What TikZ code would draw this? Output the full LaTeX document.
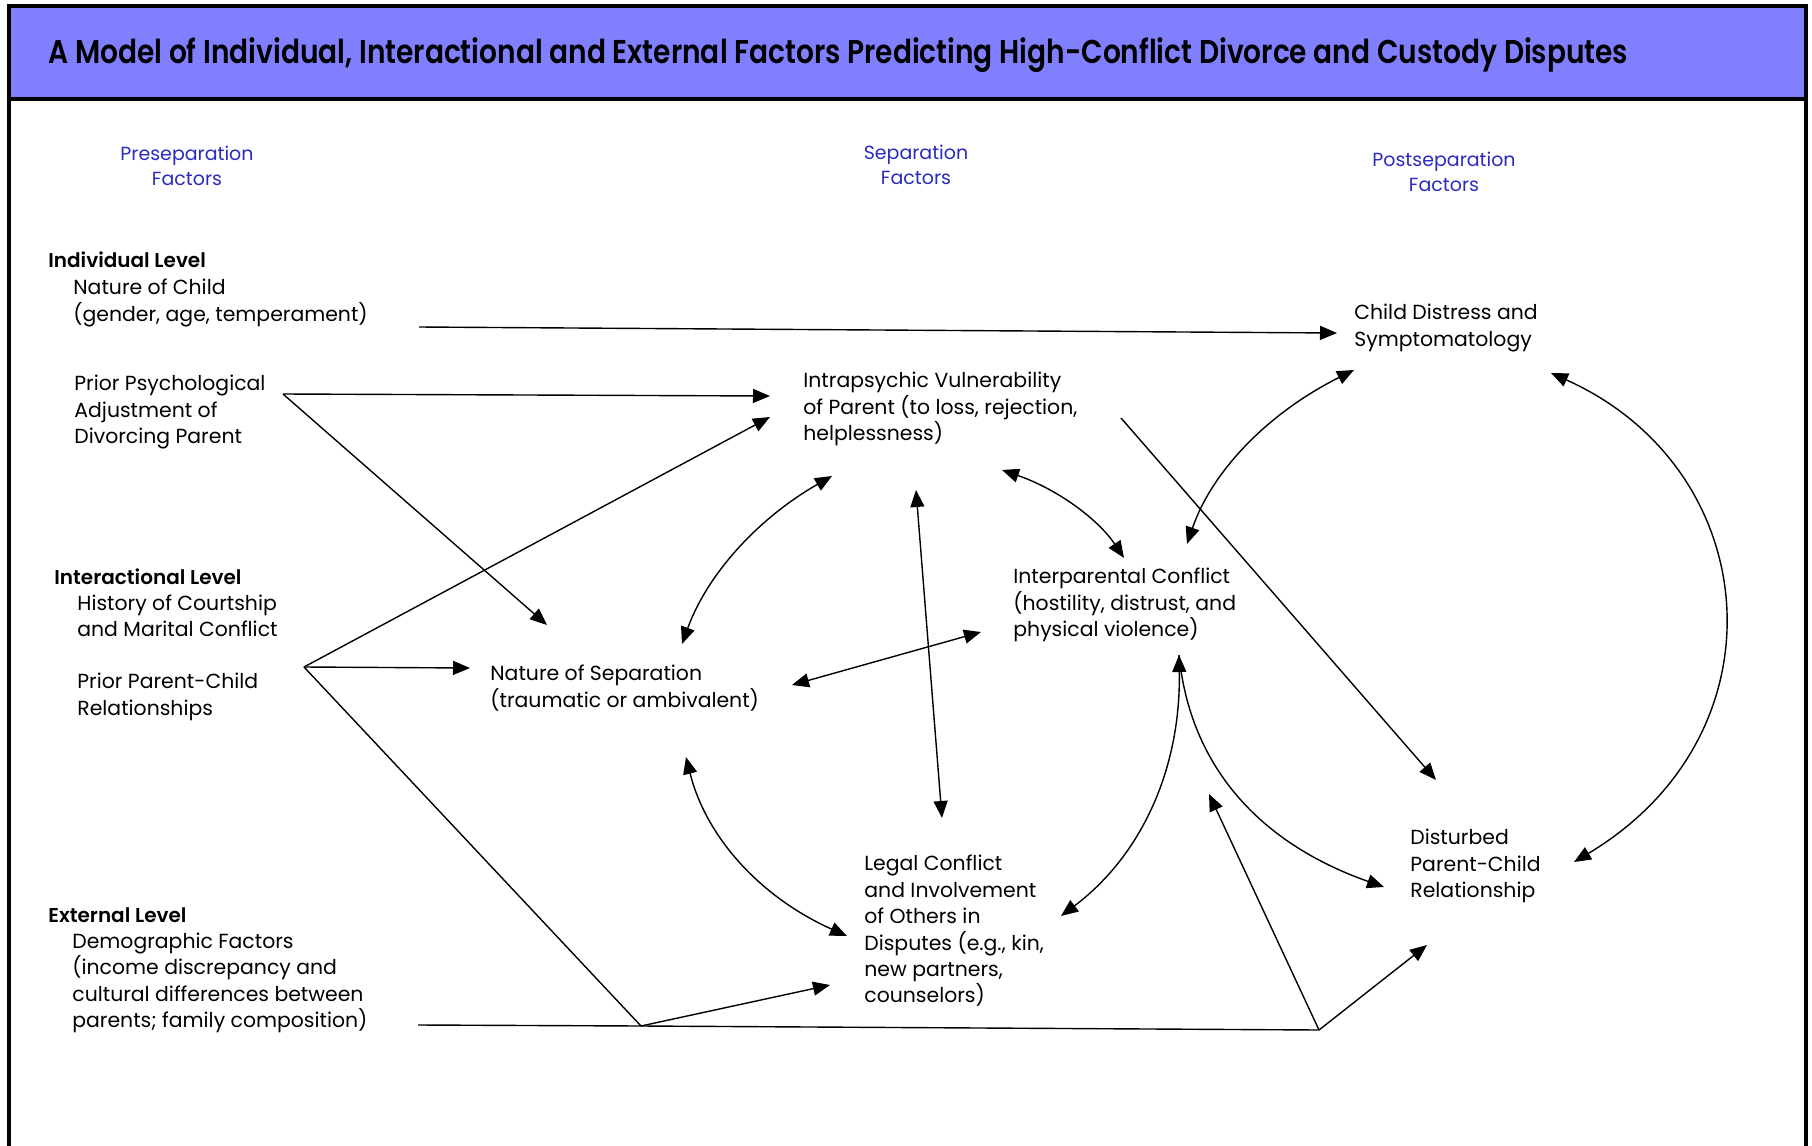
\documentclass[tikz,border=0pt]{standalone}
\usepackage{fontspec}
\setmainfont{Poppins}
\newfontfamily\titlefont[FakeStretch=0.85,UprightFont={* SemiBold}]{Poppins}
\newfontfamily\levelfont[UprightFont={* SemiBold}]{Poppins}
\usetikzlibrary{arrows.meta}
\definecolor{barblue}{HTML}{8080FF}
\definecolor{phaseblue}{HTML}{2A2AC0}
\tikzset{
  factor/.style={anchor=west,align=left,inner sep=0pt,font=\fontsize{10.2}{13.2}\selectfont},
  level/.style={anchor=west,inner sep=0pt,font=\levelfont\fontsize{10}{12}\selectfont},
  phase/.style={align=center,inner sep=0pt,text=phaseblue,font=\fontsize{9.5}{12.5}\selectfont},
  bare/.style={line width=0.7pt},
  link/.style={bare,-{Triangle[length=8.5pt,width=7pt]}},
  twoway/.style={bare,{Triangle[length=8.5pt,width=7pt]}-{Triangle[length=8.5pt,width=7pt]}}
}

\begin{document}
\begin{tikzpicture}[x=0.5pt,y=-0.5pt]
  \useasboundingbox (0,0) rectangle (1812,1146);
  % frame and title bar
  \fill[barblue] (9,6) rectangle (1806,99);
  \draw[line width=1.6pt] (9,1146) -- (9,6) -- (1806,6) -- (1806,1146);
  \draw[line width=1.6pt] (9,99) -- (1806,99);
  \node[anchor=base west,inner sep=0pt,font=\titlefont\fontsize{16.5}{19}\selectfont] (title) at (48,63)
    {A Model of Individual, Interactional and External Factors Predicting High-Conflict Divorce and Custody Disputes};

  % phase headings
  \node[phase] (pre)  at (187,166) {Preseparation\\Factors};
  \node[phase] (sep)  at (916,165) {Separation\\Factors};
  \node[phase] (post) at (1444,172) {Postseparation\\Factors};

  % preseparation factors
  \node[level]  (indiv)     at (48,260)  {Individual Level};
  \node[factor] (child)     at (73,303)  {Nature of Child\\(gender, age, temperament)};
  \node[factor] (psych)     at (74,412)  {Prior Psychological\\Adjustment of\\Divorcing Parent};
  \node[level]  (inter)     at (54,577)  {Interactional Level};
  \node[factor] (courtship) at (77,616)  {History of Courtship\\and Marital Conflict};
  \node[factor] (priorpc)   at (77,697)  {Prior Parent-Child\\Relationships};
  \node[level]  (ext)       at (48,915)  {External Level};
  \node[factor] (demo)      at (72,983)  {Demographic Factors\\(income discrepancy and\\cultural differences between\\parents; family composition)};

  % separation and postseparation factors
  \node[factor] (intra)     at (803,409)  {Intrapsychic Vulnerability\\of Parent (to loss, rejection,\\helplessness)};
  \node[factor] (natsep)    at (490,688)  {Nature of Separation\\(traumatic or ambivalent)};
  \node[factor] (interpar)  at (1013,605) {Interparental Conflict\\(hostility, distrust, and\\physical violence)};
  \node[factor] (legal)     at (864,931)  {Legal Conflict\\and Involvement\\of Others in\\Disputes (e.g., kin,\\new partners,\\counselors)};
  \node[factor] (distress)  at (1354,328) {Child Distress and\\Symptomatology};
  \node[factor] (disturbed) at (1410,866) {Disturbed\\Parent-Child\\Relationship};

  % connector ends
  \coordinate (childE)    at (419,327);
  \coordinate (psychE)    at (283,394);
  \coordinate (interE)    at (304,667);
  \coordinate (extE)      at (418,1025);
  \coordinate (extA)      at (641,1026);
  \coordinate (extB)      at (1319,1030);
  \coordinate (distressW) at (1337,333);
  \coordinate (intraW)    at (770,396);
  \coordinate (intraSW)   at (770,417);
  \coordinate (intraS)    at (832,476);
  \coordinate (intraM)    at (916,490);
  \coordinate (intraSE)   at (1002,470);
  \coordinate (intraE)    at (1121,418);
  \coordinate (natsepN)   at (547,625);
  \coordinate (natsepW)   at (470,668);
  \coordinate (natsepNE)  at (682,644);
  \coordinate (natsepE)   at (792,685);
  \coordinate (natsepS)   at (686,757);
  \coordinate (interparNW) at (1124,558);
  \coordinate (interparW) at (981,632);
  \coordinate (interparNE) at (1187,544);
  \coordinate (interparS) at (1179,655);
  \coordinate (interparSE) at (1209,794);
  \coordinate (legalN)    at (942,818);
  \coordinate (legalW)    at (847,936);
  \coordinate (legalSW)   at (830,985);
  \coordinate (legalE)    at (1061,916);
  \coordinate (distressS) at (1354,370);
  \coordinate (distressE) at (1551,373);
  \coordinate (disturbedN) at (1436,780);
  \coordinate (disturbedW) at (1384,887);
  \coordinate (disturbedE) at (1574,862);
  \coordinate (disturbedS) at (1427,945);

  % straight links
  \draw[link] (childE) -- (distressW);
  \draw[link] (psychE) -- (intraW);
  \draw[link] (psychE) -- (natsepN);
  \draw[link] (interE) -- (intraSW);
  \draw[link] (interE) -- (natsepW);
  \draw[bare] (interE) -- (extA);
  \draw[bare] (extE) -- (extA) -- (extB);
  \draw[link] (extA) -- (legalSW);
  \draw[link] (extB) -- (interparSE);
  \draw[link] (extB) -- (disturbedS);
  \draw[link] (intraE) -- (disturbedN);
  \draw[twoway] (intraM) -- (legalN);
  \draw[twoway] (natsepE) -- (interparW);

  % curved links
  \draw[twoway] (intraS) .. controls (757,519) and (707,575) .. (natsepNE);
  \draw[twoway] (intraSE) .. controls (1057,489) and (1098,519) .. (interparNW);
  \draw[twoway] (distressS) .. controls (1268,413) and (1212,471) .. (interparNE);
  \draw[twoway] (distressE) .. controls (1765,469) and (1788,734) .. (disturbedE);
  \draw[twoway] (natsepS) .. controls (706,837) and (760,897) .. (legalW);
  \draw[twoway] (interparS) .. controls (1181,768) and (1142,855) .. (legalE);
  \draw[link] (interparS) .. controls (1190,766) and (1259,843) .. (disturbedW);
\end{tikzpicture}
\end{document}
